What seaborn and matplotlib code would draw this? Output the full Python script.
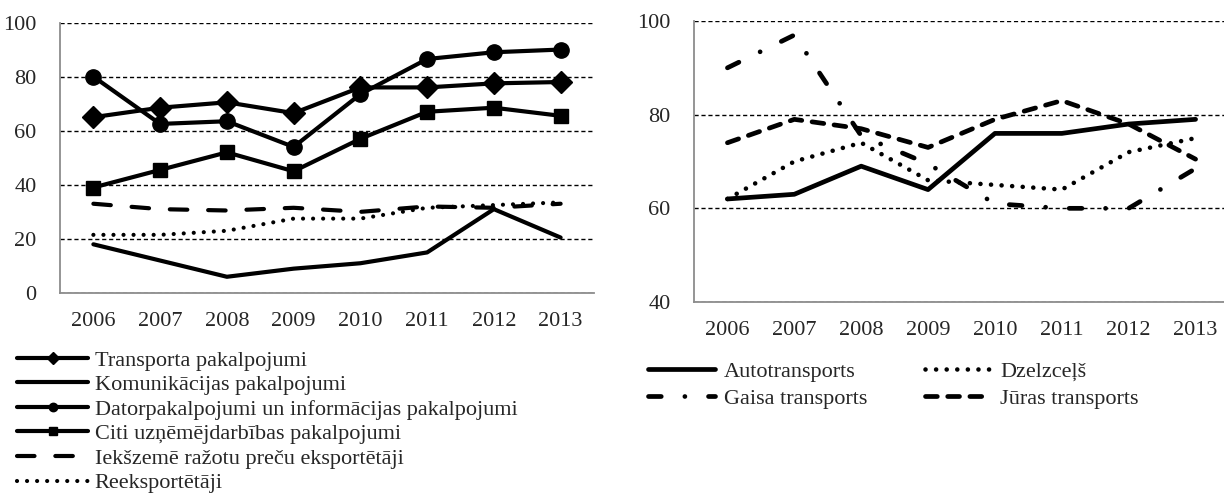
import matplotlib
matplotlib.use('Agg')
import matplotlib.pyplot as plt
import seaborn as sns
import numpy as np

# data
years = ['2006', '2007', '2008', '2009', '2010', '2011', '2012', '2013']

transporta = [65, 68.5, 70.5, 66.5, 76, 76, 77.5, 78]
komunikacijas = [18, 12, 6, 9, 11, 15, 31, 20.5]
datorpakalpojumi = [80, 62.5, 63.5, 54, 73.5, 86.5, 89, 90]
citi = [39, 45.5, 52, 45, 57, 67, 68.5, 65.5]
iekszeme = [33, 31, 30.5, 31.5, 30, 32, 31.5, 33]
reeksportetaji = [21.5, 21.5, 23, 27.5, 27.5, 31.5, 32.5, 33.5]

autotransports = [62, 63, 69, 64, 76, 76, 78, 79]
dzelzcels = [62, 70, 74, 66, 65, 64, 72, 75]
gaisa = [90, 97, 75.5, 69.5, 61, 60, 60, 68.5]
juras = [74, 79, 77, 73, 79, 83, 78, 70.5]

left_labels = ['Transporta pakalpojumi', 'Komunikācijas pakalpojumi',
               'Datorpakalpojumi un informācijas pakalpojumi',
               'Citi uzņēmējdarbības pakalpojumi',
               'Iekšzemē ražotu preču eksportētāji', 'Reeksportētāji']
right_labels = ['Autotransports', 'Dzelzceļš', 'Gaisa transports', 'Jūras transports']

sns.set_style('white')
plt.rcParams['font.family'] = ['Liberation Serif', 'DejaVu Serif']
plt.rcParams['font.size'] = 16

W, H = 1224, 504
fig = plt.figure(figsize=(W / 100, H / 100), dpi=100)
ax1 = fig.add_axes([60 / W, (H - 293) / H, 534 / W, 270.5 / H])
ax2 = fig.add_axes([694 / W, (H - 302) / H, 535 / W, 281 / H])

x = np.arange(len(years))
gray = '#8c8c8c'

# left chart
common = dict(color='black', markeredgecolor='black', markeredgewidth=1,
              solid_capstyle='round', dash_capstyle='round')
sns.lineplot(x=x, y=transporta, ax=ax1, lw=3, marker='D', ms=11,
             label=left_labels[0], zorder=5, **common)
sns.lineplot(x=x, y=komunikacijas, ax=ax1, lw=3, label=left_labels[1], **common)
sns.lineplot(x=x, y=datorpakalpojumi, ax=ax1, lw=3, marker='o', ms=11,
             label=left_labels[2], zorder=4, **common)
sns.lineplot(x=x, y=citi, ax=ax1, lw=3, marker='s', ms=10.5,
             label=left_labels[3], **common)
sns.lineplot(x=x, y=iekszeme, ax=ax1, lw=3, linestyle=(0, (4.2, 5.0)),
             label=left_labels[4], **common)
sns.lineplot(x=x, y=reeksportetaji, ax=ax1, lw=3, linestyle=(0, (0.01, 2.4)),
             label=left_labels[5], **common)

# right chart
sns.lineplot(x=x, y=autotransports, ax=ax2, lw=3.4, label=right_labels[0], **common)
sns.lineplot(x=x, y=dzelzcels, ax=ax2, lw=3.3, linestyle=(0, (0.01, 2.3)),
             label=right_labels[1], **common)
sns.lineplot(x=x, y=gaisa, ax=ax2, lw=3.4, linestyle=(0, (2.7, 5.0, 0.01, 5.0)),
             label=right_labels[2], **common)
sns.lineplot(x=x, y=juras, ax=ax2, lw=3.4, linestyle=(0, (2.5, 2.2)),
             label=right_labels[3], **common)

for ax, lo, hi, step in [(ax1, 0, 100, 20), (ax2, 40, 100, 20)]:
    ax.set_xlim(-0.5, len(years) - 0.5)
    ax.set_ylim(lo, hi)
    ax.set_yticks(np.arange(lo, hi + 1, step))
    ax.set_xticks(x)
    ax.set_xticklabels(years)
    ax.set_xticks(np.arange(-0.5, len(years), 1), minor=True)
    ax.tick_params(axis='x', which='major', length=0, pad=14, labelsize=16)
    ax.tick_params(axis='x', which='minor', length=5, width=1.3, color=gray, direction='out')
    ax.tick_params(axis='y', length=5, width=1.3, color=gray, direction='out', pad=12, labelsize=16)
    for s in ['top', 'right']:
        ax.spines[s].set_visible(False)
    for s in ['left', 'bottom']:
        ax.spines[s].set_color(gray)
        ax.spines[s].set_linewidth(1.3)
    ax.yaxis.grid(True, color='black', linestyle=(0, (3, 2)), lw=1)
    ax.xaxis.grid(False)
    ax.set_xlabel('')
    ax.set_ylabel('')

ax1.legend(loc='upper left', bbox_to_anchor=(17 / W, (H - 350) / H),
           bbox_transform=fig.transFigure, frameon=False, fontsize=16,
           handlelength=3.2, handletextpad=0.3, labelspacing=0.18,
           borderpad=0, borderaxespad=0, markerscale=0.55)
h, l = ax2.get_legend_handles_labels()
order = [0, 2, 1, 3]
ax2.legend([h[i] for i in order], [l[i] for i in order], loc='upper left',
           bbox_to_anchor=(648 / W, (H - 361) / H),
           bbox_transform=fig.transFigure, frameon=False, fontsize=16, ncol=2,
           handlelength=3.0, handletextpad=0.4, labelspacing=0.3,
           columnspacing=2.6, borderpad=0, borderaxespad=0)

plt.savefig('out.png', dpi=100)
